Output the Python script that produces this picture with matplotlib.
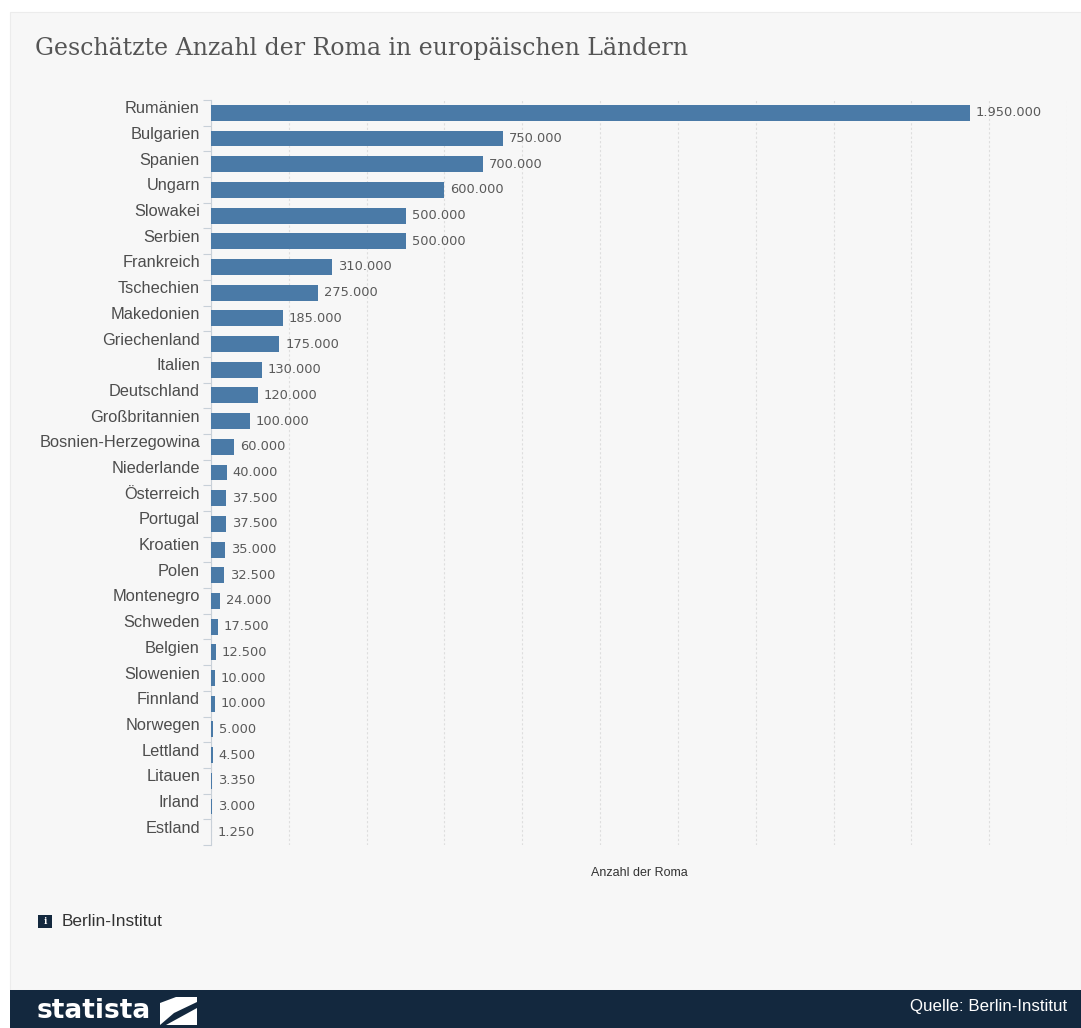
import matplotlib
matplotlib.use("Agg")
import matplotlib.pyplot as plt
from matplotlib.patches import Rectangle, Polygon
import numpy as np

countries = ["Rumänien", "Bulgarien", "Spanien", "Ungarn", "Slowakei", "Serbien",
             "Frankreich", "Tschechien", "Makedonien", "Griechenland", "Italien",
             "Deutschland", "Großbritannien", "Bosnien-Herzegowina", "Niederlande",
             "Österreich", "Portugal", "Kroatien", "Polen", "Montenegro", "Schweden",
             "Belgien", "Slowenien", "Finnland", "Norwegen", "Lettland", "Litauen",
             "Irland", "Estland"]
values = [1950000, 750000, 700000, 600000, 500000, 500000, 310000, 275000, 185000,
          175000, 130000, 120000, 100000, 60000, 40000, 37500, 37500, 35000, 32500,
          24000, 17500, 12500, 10000, 10000, 5000, 4500, 3350, 3000, 1250]

W, H = 1081, 1028
fig = plt.figure(figsize=(W/100, H/100), dpi=100)
fig.patch.set_facecolor("white")

def fx(x): return x / W
def fy(y): return 1 - y / H

# panel background
fig.patches.append(Rectangle((fx(10), fy(990)), fx(1071), 978/H, transform=fig.transFigure,
                             facecolor="#f7f7f7", edgecolor="#ececec", lw=0.8, zorder=-2))
# footer
fig.patches.append(Rectangle((fx(10), 0), fx(1071), 38/H, transform=fig.transFigure,
                             facecolor="#13283e", edgecolor="none", zorder=-1))

ax = fig.add_axes([fx(211), fy(845), (1067-211)/W, 745/H])
ax.set_facecolor("none")
y = np.arange(len(countries))
ax.barh(y, values, height=0.62, color="#4a7aa7", zorder=3)
ax.set_ylim(len(countries) - 0.5, -0.5)
ax.set_xlim(0, 2200000)
ax.set_xticks(np.arange(0, 2200001, 200000))
ax.tick_params(axis="x", length=0, labelbottom=False)
ax.grid(axis="x", color="#dedede", linestyle=(0, (2, 2)), linewidth=0.8, zorder=0)
ax.set_yticks(y)
ax.set_yticklabels([])
ax.tick_params(axis="y", which="major", length=0)
ax.set_yticks(np.arange(-0.5, len(countries), 1), minor=True)
ax.tick_params(axis="y", which="minor", length=6, color="#c8d0d8", width=0.8)
for s in ["top", "right", "bottom"]:
    ax.spines[s].set_visible(False)
ax.spines["left"].set_color("#c8d0d8")
ax.spines["left"].set_linewidth(0.8)

# category labels (slightly above bar centre, as in the original)
for yi, name in zip(y, countries):
    ax.annotate(name, (0, yi), xytext=(-11, 4), textcoords="offset pixels",
                ha="right", va="center", fontsize=11.8, color="#4d4d4d",
                family="Liberation Sans", annotation_clip=False)

for yi, v in zip(y, values):
    lbl = f"{v:,}".replace(",", ".")
    ax.annotate(lbl, (v, yi), xytext=(6, 0), textcoords="offset pixels",
                ha="left", va="center", fontsize=9.4, color="#5a5a5a",
                family="DejaVu Sans")

ax.set_xlabel("Anzahl der Roma", fontsize=9, color="#333333",
              family="Liberation Sans", labelpad=16)

fig.text(fx(35), fy(48), "Geschätzte Anzahl der Roma in europäischen Ländern",
         fontsize=17, color="#555555", family="DejaVu Serif", va="center", ha="left")

# info note
fig.patches.append(Rectangle((fx(38), fy(928)), 14/W, 13/H, transform=fig.transFigure,
                             facecolor="#13283e", edgecolor="none", zorder=2))
fig.text(fx(45), fy(921.5), "i", fontsize=6.5, color="white", ha="center", va="center",
         family="DejaVu Serif", weight="bold")
fig.text(fx(62), fy(922), "Berlin-Institut", fontsize=12.4, color="#333333",
         family="Liberation Sans", va="center", ha="left")

# footer text
fig.text(fx(37), fy(1011), "statista", fontsize=19, color="white", weight="bold",
         family="DejaVu Sans", va="center", ha="left")
fig.patches.append(Polygon([(fx(160), fy(1025)), (fx(160), fy(1003)), (fx(176), fy(997)),
                            (fx(197), fy(997)), (fx(197), fy(1002)), (fx(174), fy(1013))],
                           closed=True, transform=fig.transFigure, facecolor="white", zorder=3))
fig.patches.append(Polygon([(fx(166), fy(1025)), (fx(197), fy(1008)), (fx(197), fy(1025))],
                           closed=True, transform=fig.transFigure, facecolor="white", zorder=3))
fig.text(fx(1067), fy(1007), "Quelle: Berlin-Institut", fontsize=12.2, color="white",
         family="Liberation Sans", va="center", ha="right")

fig.savefig("out.png", dpi=100, facecolor=fig.get_facecolor())
